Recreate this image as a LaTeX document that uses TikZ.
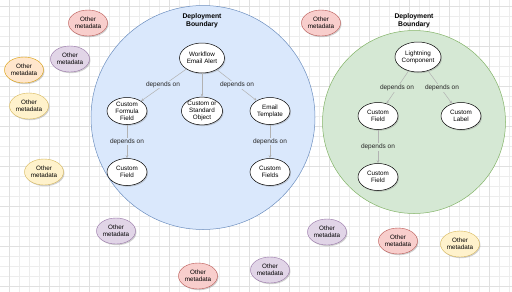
\documentclass[tikz,border=0pt]{standalone}
\usepackage{fontspec}
\setmainfont{Liberation Sans}
\usetikzlibrary{shapes.geometric,shadows,arrows.meta}
\definecolor{bluefill}{HTML}{DAE8FC}
\definecolor{bluestroke}{HTML}{6C8EBF}
\definecolor{greenfill}{HTML}{D5E8D4}
\definecolor{greenstroke}{HTML}{82B366}
\definecolor{redfill}{HTML}{F8CECC}
\definecolor{redstroke}{HTML}{B85450}
\definecolor{purplefill}{HTML}{E1D5E7}
\definecolor{purplestroke}{HTML}{9673A6}
\definecolor{orangefill}{HTML}{FFE6CC}
\definecolor{orangestroke}{HTML}{D79B00}
\definecolor{yellowfill}{HTML}{FFF2CC}
\definecolor{yellowstroke}{HTML}{D6B656}
\definecolor{gridc}{HTML}{EDEDED}
\definecolor{gridm}{HTML}{E0E0E0}
\tikzset{
  txt/.style={font=\fontsize{6.3}{7}\selectfont, align=center},
  ell/.style={ellipse, draw=black, line width=0.5pt, fill=white, minimum width=40pt, minimum height=27pt, inner sep=0pt, txt,
     drop shadow={opacity=0.35, shadow xshift=1pt, shadow yshift=-1.2pt}},
  big/.style={ell, minimum width=45pt, minimum height=30pt},
  other/.style={ell, minimum width=39pt, minimum height=26pt, line width=0.4pt},
  ored/.style={other, fill=redfill, draw=redstroke},
  opur/.style={other, fill=purplefill, draw=purplestroke},
  oora/.style={other, fill=orangefill, draw=orangestroke},
  oyel/.style={other, fill=yellowfill, draw=yellowstroke},
  dep/.style={draw=black!30, line width=0.5pt, -{Stealth[length=3pt,width=2.5pt]}},
  deplab/.style={txt, font=\fontsize{6.5}{7}\selectfont, text=black!85},
  bnd/.style={font=\bfseries\fontsize{6.8}{8}\selectfont, align=center}
}
\begin{document}
\begin{tikzpicture}[x=1pt,y=-1pt]
\useasboundingbox (0,0) rectangle (512,292);
\fill[white] (0,0) rectangle (512,292);
\foreach \i in {9,19,...,509} \draw[gridc, line width=0.3pt] (\i,0) -- (\i,292);
\foreach \j in {6,16,...,290} \draw[gridc, line width=0.3pt] (0,\j) -- (512,\j);
\foreach \i in {9,49,...,509} \draw[gridm, line width=0.3pt] (\i,0) -- (\i,292);
\foreach \j in {6,46,...,290} \draw[gridm, line width=0.3pt] (0,\j) -- (512,\j);

% boundaries
\node[circle, draw=bluestroke, fill=bluefill, line width=0.5pt, minimum size=224pt, inner sep=0pt] (bb) at (203,117.5) {};
\node[circle, draw=greenstroke, fill=greenfill, line width=0.5pt, minimum size=183pt, inner sep=0pt] (gb) at (414,122) {};
\node[bnd] (bl) at (202,21) {Deployment\\Boundary};
\node[bnd] (gl) at (414,21) {Deployment\\Boundary};

% blue nodes
\node[big] (wf) at (202,58) {Workflow\\Email Alert};
\node[ell] (cff) at (127,111) {Custom\\Formula\\Field};
\node[ell] (cso) at (202,111) {Custom or\\Standard\\Object};
\node[ell] (et) at (270,111) {Email\\Template};
\node[ell] (cf1) at (127,172) {Custom\\Field};
\node[ell] (cfs) at (270,172) {Custom\\Fields};

\draw[dep] (wf) -- (cff);
\draw[dep] (wf) -- (cso);
\draw[dep] (wf) -- (et);
\draw[dep] (cff) -- (cf1);
\draw[dep] (et) -- (cfs);
\node[deplab, fill=bluefill, inner sep=0.5pt] (l1) at (163,84.5) {depends on};
\node[deplab, fill=bluefill, inner sep=0.5pt] (l2) at (237,85) {depends on};
\node[deplab, fill=bluefill, inner sep=0.5pt] (l3) at (127,141.5) {depends on};
\node[deplab, fill=bluefill, inner sep=0.5pt] (l4) at (270,141.5) {depends on};

% green nodes
\node[big] (lc) at (418,57) {Lightning\\Component};
\node[ell] (cf2) at (378,116) {Custom\\Field};
\node[ell] (cl) at (461,116) {Custom\\Label};
\node[ell] (cf3) at (378,177) {Custom\\Field};
\draw[dep] (lc) -- (cf2);
\draw[dep] (lc) -- (cl);
\draw[dep] (cf2) -- (cf3);
\node[deplab, fill=greenfill, inner sep=0.5pt] (l5) at (397,88) {depends on};
\node[deplab, fill=greenfill, inner sep=0.5pt] (l6) at (442,88) {depends on};
\node[deplab, fill=greenfill, inner sep=0.5pt] (l7) at (378,147) {depends on};

% other metadata
\node[ored] (o1) at (88,23) {Other\\metadata};
\node[ored] (o2) at (321,23) {Other\\metadata};
\node[opur] (o3) at (70,59) {Other\\metadata};
\node[oora] (o4) at (24,70) {Other\\metadata};
\node[oyel] (o5) at (29,106) {Other\\metadata};
\node[oyel] (o6) at (44,172) {Other\\metadata};
\node[opur] (o7) at (116,231) {Other\\metadata};
\node[opur] (o8) at (327,232) {Other\\metadata};
\node[ored] (o9) at (398,241) {Other\\metadata};
\node[oyel] (o10) at (460,244) {Other\\metadata};
\node[ored] (o11) at (198,276) {Other\\metadata};
\node[opur] (o12) at (270,270) {Other\\metadata};
\end{tikzpicture}
\end{document}
